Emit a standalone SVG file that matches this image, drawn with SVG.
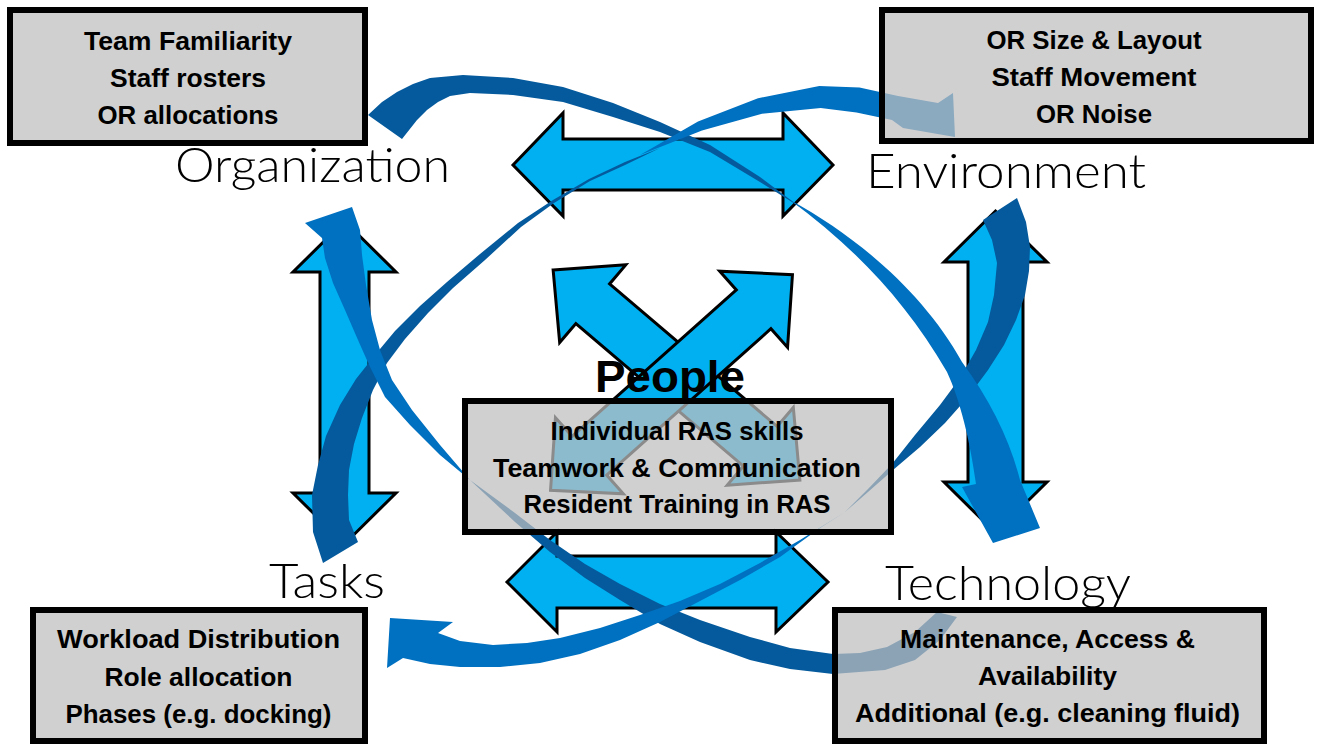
<svg xmlns="http://www.w3.org/2000/svg" width="1319" height="745" viewBox="0 0 1319 745">
<style>
.blk{fill:#00b0f0;stroke:#000;stroke-width:3;stroke-linejoin:miter}
.dk{fill:#045a9c}
.lt{fill:#0070c0}
.box{fill:#bfbfbf;fill-opacity:0.73;stroke:#000;stroke-width:6}
.bt{font-family:"Liberation Sans",Arial,sans-serif;font-weight:bold;font-size:25px;fill:#000;text-anchor:middle}
.lbl{font-family:Lato,"Liberation Sans",Arial,sans-serif;font-weight:300;font-size:47px;fill:#000}
.ppl{font-family:"Liberation Sans",Arial,sans-serif;font-weight:bold;font-size:45px;fill:#000}
</style>
<rect width="1319" height="745" fill="#fff"/>
<g id="connectors">
  <g id="block-arrows">
    <path class="blk" d="M513,165 L563,113 L563,139 L783,139 L783,113 L833,165 L783,216 L783,190 L563,190 L563,216 Z"/>
    <path class="blk" d="M507,582 L557,532 L557,556 L776,556 L776,532 L828,582 L776,632 L776,608 L557,608 L557,632 Z"/>
    <path class="blk" d="M344.5,221 L396,272 L369,272 L369,493 L396,493 L344.5,544 L293,493 L320,493 L320,272 L293,272 Z"/>
    <path class="blk" d="M995.5,211 L1047,262 L1023,262 L1023,482 L1047,482 L995.5,533 L944,482 L968,482 L968,262 L944,262 Z"/>
    <path class="blk" transform="translate(676.5,375) rotate(40.4)" d="M-162,0 L-110,-51 L-110,-26 L110,-26 L110,-51 L162,0 L110,51 L110,26 L-110,26 L-110,51 Z"/>
    <path class="blk" transform="translate(671.5,382.5) rotate(138.3)" d="M-162,0 L-110,-51 L-110,-26 L110,-26 L110,-51 L162,0 L110,51 L110,26 L-110,26 L-110,51 Z"/>
  </g>
  <g id="curved-arrows">
    <path class="dk" d="M368,115 L382,102 L397,92 L413,84 L430,78 L463,75 L513,78 L563,87 L613,103 L660,122 L710,145 L760,177 L800,207 L760,182 L710,152 L660,132 L613,117 L563,102 L513,95 L470,93 L450,96 L438,102 L427,110 L417,120 L402,139 Z"/>
    <path class="dk" d="M323,563 L313,532 L312,495 L318,465 L326,436 L340,405 L356,379 L375,355 L395,331 L420,306 L447,282 L480,254 L518,223 L553,200 L589,179 L625,162 L660,148 L625,165 L590,181 L554,203 L521,227 L485,260 L453,288 L428,313 L405,339 L387,363 L373,390 L362,418 L354,444 L349,470 L348,495 L349,520 L358,542 Z"/>
    <path class="dk" d="M1017,198 L1026,222 L1030,247 L1029,271 L1025,295 L1016,320 L1004,345 L988,370 L968,397 L945,423 L920,447 L893,470 L868,492 L845,512 L868,489 L892,464 L915,435 L940,405 L960,378 L976,350 L988,322 L994,295 L997,263 L992,240 L983,220 Z"/>
    <path class="dk" d="M937,612 L915,632 L887,647 L860,653 L833,654 L790,648 L750,637 L700,620 L660,604 L620,584 L585,564 L550,540 L515,513 L470,480 L515,522 L550,552 L585,578 L620,600 L660,624 L700,642 L750,660 L790,669 L833,674 L885,670 L915,660 L940,640 L957,617 Z"/>
    <path class="lt" d="M790,200 C860,238 925,295 962,362 C990,400 1010,440 1020,480 L1040,528 L993,543 L962,487 L976,484 C970,440 960,400 947,372 C905,300 855,248 790,200 Z"/>
    <path class="lt" d="M640,155 L698,121.4 L758,98.2 L819.3,86 L859.5,87.6 L898,95.9 L938,103 L953,93 L955,137 L903,128 L892,120 L856.5,112.4 L820.7,108 L762,113.8 L702,130.6 Z"/>
    <path class="lt" d="M845,512 L800,540 L760,563 L720,584 L680,601 L640,615 L600,628 L560,638 L527,643 L493,645 L460,641 L438,633 L453,622 L390,618 L387,668 L403,658 L430,664 L460,667 L500,667 L540,663 L580,654 L620,640 L660,622 L700,601 L740,580 L780,557 L820,528 Z"/>
    <path class="lt" d="M470,480 L440,455 L410,425 L385,397 L370,367 L358,340 L345,310 L333,283 L325,258 L322,238 L305,223 L352,207 L360,230 L362,255 L366,285 L372,320 L380,350 L392,380 L412,410 L440,445 Z"/>
  </g>
</g>
<g id="node-organization">
  <rect class="box" x="10" y="10" width="355" height="133"/>
  <text class="bt" x="188" y="50" textLength="208" lengthAdjust="spacingAndGlyphs">Team Familiarity</text>
  <text class="bt" x="188" y="87" textLength="156" lengthAdjust="spacingAndGlyphs">Staff rosters</text>
  <text class="bt" x="188" y="124" textLength="181" lengthAdjust="spacingAndGlyphs">OR allocations</text>
  <text class="lbl" x="175" y="182" textLength="275" lengthAdjust="spacingAndGlyphs">Organization</text>
</g>
<g id="node-environment">
  <rect class="box" x="882" y="10" width="429" height="131"/>
  <text class="bt" x="1094" y="49" textLength="215" lengthAdjust="spacingAndGlyphs">OR Size &amp; Layout</text>
  <text class="bt" x="1094" y="86" textLength="205" lengthAdjust="spacingAndGlyphs">Staff Movement</text>
  <text class="bt" x="1094" y="123" textLength="116" lengthAdjust="spacingAndGlyphs">OR Noise</text>
  <text class="lbl" x="866" y="188" textLength="280" lengthAdjust="spacingAndGlyphs">Environment</text>
</g>
<g id="node-people">
  <text class="ppl" x="595" y="392" textLength="150" lengthAdjust="spacingAndGlyphs">People</text>
  <rect class="box" x="465" y="401" width="426" height="131"/>
  <text class="bt" x="677" y="440" textLength="253" lengthAdjust="spacingAndGlyphs">Individual RAS skills</text>
  <text class="bt" x="677" y="477" textLength="368" lengthAdjust="spacingAndGlyphs">Teamwork &amp; Communication</text>
  <text class="bt" x="677" y="513" textLength="307" lengthAdjust="spacingAndGlyphs">Resident Training in RAS</text>
</g>
<g id="node-tasks">
  <rect class="box" x="33" y="610" width="332" height="131"/>
  <text class="bt" x="198.5" y="648" textLength="283" lengthAdjust="spacingAndGlyphs">Workload Distribution</text>
  <text class="bt" x="198.5" y="686" textLength="188" lengthAdjust="spacingAndGlyphs">Role allocation</text>
  <text class="bt" x="198.5" y="723" textLength="266" lengthAdjust="spacingAndGlyphs">Phases (e.g. docking)</text>
  <text class="lbl" x="269" y="598" textLength="116" lengthAdjust="spacingAndGlyphs">Tasks</text>
</g>
<g id="node-technology">
  <rect class="box" x="835" y="610" width="429" height="131"/>
  <text class="bt" x="1047.5" y="648" textLength="295" lengthAdjust="spacingAndGlyphs">Maintenance, Access &amp;</text>
  <text class="bt" x="1047.5" y="685" textLength="139" lengthAdjust="spacingAndGlyphs">Availability</text>
  <text class="bt" x="1047.5" y="722" textLength="385" lengthAdjust="spacingAndGlyphs">Additional (e.g. cleaning fluid)</text>
  <text class="lbl" x="885" y="600" textLength="246" lengthAdjust="spacingAndGlyphs">Technology</text>
</g>
</svg>
